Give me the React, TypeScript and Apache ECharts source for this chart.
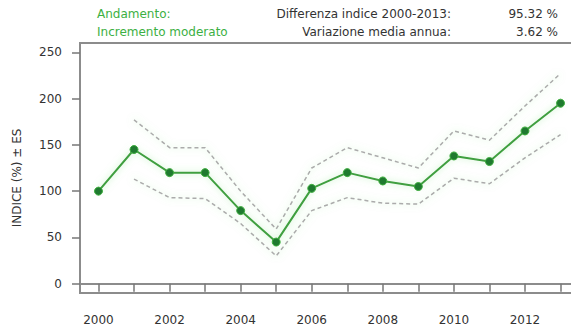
import React, { useEffect, useRef } from "react";
import * as echarts from "echarts";

const years = [2000, 2001, 2002, 2003, 2004, 2005, 2006, 2007, 2008, 2009, 2010, 2011, 2012, 2013];
const indexValues = [100, 145, 120, 120, 79, 45, 103, 120, 111, 105, 138, 132, 165, 195];
const upperES = [null, 177, 147, 147, 100, 59, 125, 147, 136, 125, 165, 155, 192, 227];
const lowerES = [null, 113, 93, 92, 65, 30, 79, 93, 87, 86, 114, 108, 136, 161];
const yTicks = [0, 50, 100, 150, 200, 250];
const xLabelYears = [2000, 2002, 2004, 2006, 2008, 2010, 2012];

const FONT = "DejaVu Sans";

const pairs = (vals: (number | null)[]) =>
  years.map((y, i) => [y, vals[i]]).filter((p) => p[1] !== null);

export default function App() {
  const ref = useRef<HTMLDivElement>(null);
  useEffect(() => {
    if (!ref.current) return;
    const chart = echarts.init(ref.current, null, { renderer: "svg" });
    const glow = { shadowBlur: 7, shadowColor: "rgba(140,230,140,0.6)" };
    const txt = (text: string, x: number, y: number, fill: string, align = "left") => ({
      type: "text",
      x,
      y,
      style: { text, fill, font: `12px '${FONT}'`, align, verticalAlign: "middle" },
    });
    chart.setOption({
      animation: false,
      backgroundColor: "#fff",
      grid: {
        left: 80,
        top: 43,
        right: -3,
        bottom: 40,
        show: true,
        borderColor: "#8c8c8c",
        borderWidth: 2,
      },
      xAxis: {
        type: "value",
        min: 1999.48,
        max: 2013.52,
        splitLine: { show: false },
        axisLine: { show: true, lineStyle: { color: "#8c8c8c", width: 2 } },
        axisTick: {
          show: true,
          customValues: years,
          length: 8,
          lineStyle: { color: "#777", width: 1.5 },
        },
        axisLabel: {
          customValues: xLabelYears,
          margin: 21,
          color: "#333",
          fontFamily: FONT,
          fontSize: 12,
          formatter: (v: number) => String(Math.round(v)),
        },
      },
      yAxis: {
        type: "value",
        min: -10,
        max: 260,
        splitLine: { show: false },
        axisLine: { show: true, lineStyle: { color: "#8c8c8c", width: 2 } },
        axisTick: {
          show: true,
          customValues: yTicks,
          length: 8,
          lineStyle: { color: "#777", width: 1.5 },
        },
        axisLabel: {
          customValues: yTicks,
          margin: 18,
          color: "#333",
          fontFamily: FONT,
          fontSize: 12,
        },
      },
      series: [
        {
          type: "line",
          data: pairs(upperES),
          symbol: "none",
          lineStyle: { color: "#ababab", width: 1.5, type: [4, 3], ...glow },
          z: 2,
        },
        {
          type: "line",
          data: pairs(lowerES),
          symbol: "none",
          lineStyle: { color: "#ababab", width: 1.5, type: [4, 3], ...glow },
          z: 2,
        },
        {
          type: "line",
          data: pairs(indexValues),
          symbol: "circle",
          symbolSize: 8,
          lineStyle: { color: "#3f9f3f", width: 2, ...glow },
          itemStyle: { color: "#1f7a2f", borderColor: "#3fae3f", borderWidth: 1 },
          z: 3,
        },
      ],
      graphic: [
        txt("Andamento:", 97, 14, "#3cb043"),
        txt("Incremento moderato", 97, 32, "#3cb043"),
        txt("Differenza indice 2000-2013:", 451, 14, "#333", "right"),
        txt("Variazione media annua:", 451, 32, "#333", "right"),
        txt("95.32 %", 558, 14, "#333", "right"),
        txt("3.62 %", 558, 32, "#333", "right"),
        {
          type: "text",
          x: 17,
          y: 178,
          rotation: Math.PI / 2,
          style: { text: "INDICE (%) ± ES", fill: "#333", font: `12px '${FONT}'`, align: "center", verticalAlign: "middle" },
        },
      ],
    });
    return () => chart.dispose();
  }, []);
  return <div ref={ref} style={{ width: 579, height: 333, margin: -8 }} />;
}
